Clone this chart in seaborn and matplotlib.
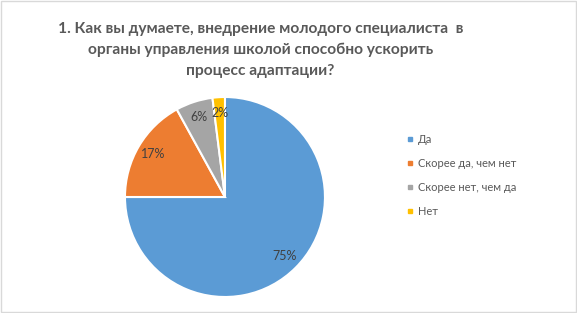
import matplotlib.pyplot as plt
import seaborn as sns
from matplotlib.lines import Line2D
from matplotlib.patches import Rectangle

categories = ["Да", "Скорее да, чем нет", "Скорее нет, чем да", "Нет"]
shares = [75, 17, 6, 2]
colors = ["#5B9BD5", "#ED7D31", "#A5A5A5", "#FFC000"]
title = ("1. Как вы думаете, внедрение молодого специалиста  в\n"
         "органы управления школой способно ускорить\n"
         "процесс адаптации?")

sns.set_theme(style="white")
plt.rcParams["font.family"] = ["Lato", "DejaVu Sans"]

fig = plt.figure(figsize=(5.77, 3.13), dpi=100)
fig.patch.set_facecolor("white")
fig.add_artist(Rectangle((0.001, 0.002), 0.997, 0.995, transform=fig.transFigure,
                         fill=False, edgecolor="#D9D9D9", linewidth=1))

ax = fig.add_axes([0.2166, 0.0511, 0.3466, 0.639])
wedges, texts, autotexts = ax.pie(
    shares,
    colors=sns.color_palette(colors),
    startangle=90,
    counterclock=False,
    autopct="%d%%",
    pctdistance=0.84,
    wedgeprops=dict(edgecolor="white", linewidth=1.5),
    textprops=dict(color="#404040", fontsize=9),
)
ax.set_xlim(-1.0, 1.0)
ax.set_ylim(-1.0, 1.0)
ax.set_aspect("equal")
ax.axis("off")

fig.text(0.451, 0.84, title, ha="center", va="center", fontsize=11.2,
         fontweight="bold", color="#595959", linespacing=1.6)

handles = [Line2D([0], [0], marker="s", linestyle="", markersize=3.5,
                  markerfacecolor=c, markeredgecolor=c) for c in colors]
fig.legend(handles, categories, loc="upper left", bbox_to_anchor=(0.687, 0.603),
           frameon=False, fontsize=8.0, labelcolor="#595959", handlelength=0.6,
           handletextpad=0.45, labelspacing=1.15)

plt.savefig("out.png", dpi=100)
